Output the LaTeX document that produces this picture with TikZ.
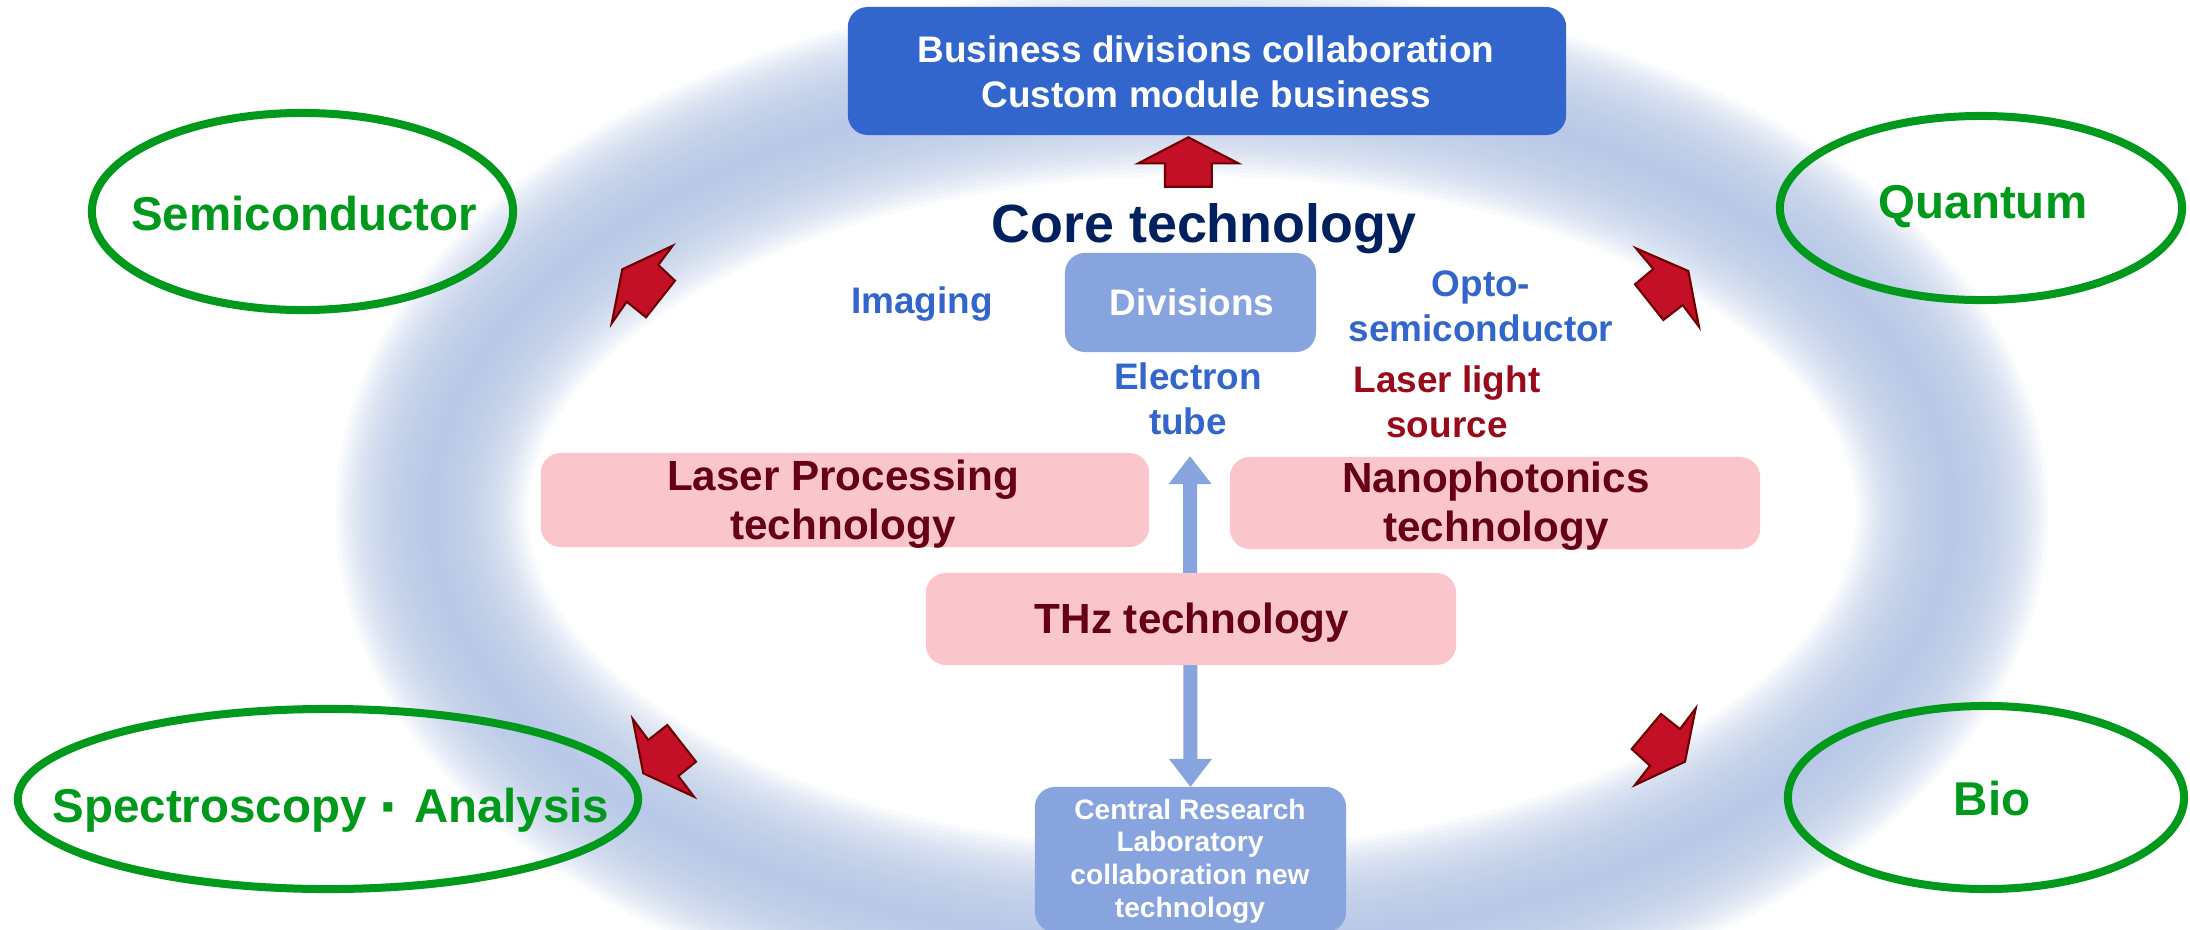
\documentclass[tikz,border=0pt]{standalone}
\usepackage{fontspec}
\setmainfont{Liberation Sans}
\usetikzlibrary{arrows.meta,shapes.geometric}
\definecolor{topblue}{RGB}{51,102,204}
\definecolor{lightblue}{RGB}{135,164,223}
\definecolor{pinkbox}{RGB}{250,198,204}
\definecolor{pinktext}{RGB}{102,0,20}
\definecolor{laserred}{RGB}{153,10,26}
\definecolor{navy}{RGB}{0,32,96}
\definecolor{ellgreen}{RGB}{0,153,28}
\definecolor{arrred}{RGB}{195,16,38}
\definecolor{arrborder}{RGB}{110,0,0}
\definecolor{ringblue}{RGB}{182,200,232}
\begin{document}
\begin{tikzpicture}[x=0.01cm,y=-0.01cm,
  box/.style={rounded corners=0.2cm, inner sep=0pt, outer sep=0pt},
  ell/.style={ellipse, draw=ellgreen, line width=0.08cm, inner sep=0pt},
  elltext/.style={text=ellgreen, font=\fontsize{13.5pt}{16pt}\selectfont\bfseries, anchor=base, inner sep=0pt},
  smalltext/.style={font=\fontsize{10.5pt}{12.8pt}\selectfont\bfseries, align=center, inner sep=0pt},
  pinktxt/.style={text=pinktext, font=\fontsize{12pt}{14.1pt}\selectfont\bfseries, align=center, inner sep=0pt},
  redarrow/.style={fill=arrred, draw=arrborder, line width=0.6pt, line join=miter},
  dblarrow/.style={draw=lightblue, line width=1.4mm,
    {Triangle[width=4.1mm,length=2.8mm]}-{Triangle[width=4.1mm,length=2.8mm]}},
]
\useasboundingbox (0,0) rectangle (2190,930);
\fill[white] (0,0) rectangle (2190,930);
% soft glowing ring
\foreach \k in {1,...,24}
  \draw[ringblue, opacity=0.09, line width=0.8*\k mm] (1192,512) ellipse [x radius=7.6cm, y radius=4.32cm];

% top box
\node[box, fill=topblue, minimum width=7.18cm, minimum height=1.28cm] (top) at (1207,71) {};
\node[smalltext, text=white] (toptext) at (1206,71.5) {Business divisions collaboration\\Custom module business};

% up arrow
\filldraw[redarrow] (1188.3,137.3) -- (1238.3,163.3) -- (1211.7,163.3) -- (1211.7,186.7) -- (1165,186.7) -- (1165,163.3) -- (1138.3,163.3) -- cycle;

% core technology
\node[text=navy, font=\fontsize{15.3pt}{18pt}\selectfont\bfseries, anchor=base, inner sep=0pt] (core) at (1204,242) {Core technology};

% divisions
\node[box, fill=lightblue, minimum width=2.51cm, minimum height=0.99cm] (div) at (1190.5,302.5) {};
\node[smalltext, text=white, anchor=base] (divt) at (1192,315) {Divisions};
\node[smalltext, text=topblue, anchor=base] (imaging) at (922,313) {Imaging};
\node[smalltext, text=topblue] (opto) at (1481,306.5) {Opto-\\semiconductor};
\node[smalltext, text=topblue] (etube) at (1188,399) {Electron\\tube};
\node[smalltext, text=laserred] (laser) at (1447,401.5) {Laser light\\source};

% central research box and double arrow
\node[box, fill=lightblue, minimum width=3.11cm, minimum height=1.45cm] (central) at (1190.5,859.5) {};
\node[font=\fontsize{8pt}{9.3pt}\selectfont\bfseries, text=white, align=center, inner sep=0pt] (centralt) at (1190,861) {Central Research\\Laboratory\\collaboration new\\technology};
\coordinate (etip) at (1190,456);
\draw[dblarrow] (etip) -- (central.north);

% pink technology boxes
\node[box, fill=pinkbox, minimum width=6.08cm, minimum height=0.94cm] (lp) at (845,500) {};
\node[pinktxt] (lpt) at (843,504) {Laser Processing\\technology};
\node[box, fill=pinkbox, minimum width=5.30cm, minimum height=0.92cm] (nano) at (1495,503) {};
\node[pinktxt, font=\fontsize{12pt}{13.9pt}\selectfont\bfseries] (nanot) at (1496,506.5) {Nanophotonics\\technology};
\node[box, fill=pinkbox, minimum width=5.30cm, minimum height=0.92cm] (thz) at (1191,619) {};
\node[pinktxt, anchor=base] (thzt) at (1192,633) {THz technology};

% application ellipses
\node[ell, minimum width=4.21cm, minimum height=1.97cm] (semi) at (302.5,211.5) {};
\node[elltext] (semit) at (304,230) {Semiconductor};
\node[ell, minimum width=4.02cm, minimum height=1.84cm] (quant) at (1981,208) {};
\node[elltext] (quantt) at (1983,218) {Quantum};
\node[ell, minimum width=6.20cm, minimum height=1.80cm] (spec) at (328,799) {};
\node[elltext] (spect) at (331,822) {Spectroscopy\makebox[1em]{\raisebox{-1.8pt}{\fontsize{18pt}{18pt}\selectfont ·}}Analysis};
\node[ell, minimum width=3.96cm, minimum height=1.83cm] (bio) at (1986,797.5) {};
\node[elltext] (biot) at (1992,815) {Bio};

% red diagonal arrows
\filldraw[redarrow] (672.7,245.7) -- (658.3,265) -- (675,280.7) -- (646,317.3) -- (626.7,301.7) -- (611.7,323.3) -- (622.3,269.3) -- cycle;
\filldraw[redarrow] (1636,248.3) -- (1688.3,271) -- (1699,326.7) -- (1682.7,305) -- (1663.3,320) -- (1635,284.3) -- (1653.3,269) -- cycle;
\filldraw[redarrow] (632.7,719) -- (648.3,740) -- (667.3,725) -- (696,761.7) -- (678.3,776) -- (694,796.7) -- (643.3,773.3) -- cycle;
\filldraw[redarrow] (1695.7,708.3) -- (1680,729) -- (1661,714) -- (1631.7,749) -- (1650,765.7) -- (1635,785) -- (1685,761.7) -- cycle;
\end{tikzpicture}
\end{document}
